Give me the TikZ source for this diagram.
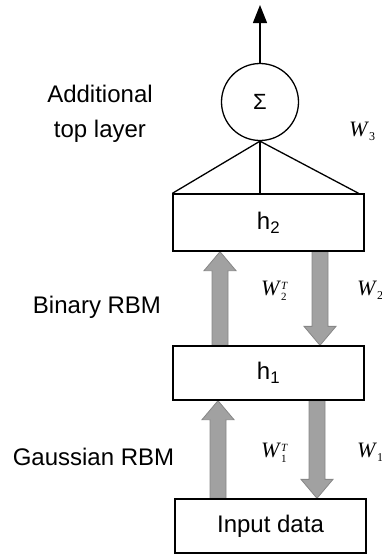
\documentclass[tikz,border=0pt]{standalone}
\usepackage{fontspec}
\setmainfont{Liberation Sans}
\newfontfamily\wfont{Liberation Serif}
\usetikzlibrary{arrows.meta,calc,backgrounds}
\newcommand{\fatarrow}[2]{%
  \filldraw[fatarr] let \p1=(#1), \p2=(#2), \n1={sign(\y2-\y1)} in
   ({\x1-8pt},\y1) -- ({\x1-8pt},{\y2-\n1*19pt}) -- ({\x1-16pt},{\y2-\n1*19pt})
   -- (\x1,\y2) -- ({\x1+16pt},{\y2-\n1*19pt}) -- ({\x1+8pt},{\y2-\n1*19pt})
   -- ({\x1+8pt},\y1) -- cycle;}
\newcommand{\wsub}[1]{\textit{W}\raisebox{-4pt}{\fontsize{12}{12}\selectfont #1}}
\newcommand{\wsubT}[1]{\textit{W}\raisebox{-5pt}{\fontsize{11}{13}\selectfont\shortstack[l]{\textit{T}\\#1}}}
\tikzset{
  layerbox/.style={draw, line width=1.3pt, minimum width=191pt, inner sep=0pt,
    font=\fontsize{24}{28}\selectfont},
  sumnode/.style={draw, circle, line width=1.3pt, minimum size=77pt, inner sep=0pt,
    font=\fontsize{22}{26}\selectfont},
  lbl/.style={font=\fontsize{24}{35}\selectfont, align=center, anchor=base, inner sep=0pt},
  wlbl/.style={font=\wfont\fontsize{22}{24}\selectfont, anchor=base west, inner sep=0pt},
  fatarr/.style={fill=black!37, draw=black!47, line width=0.8pt},
  thin/.style={line width=1.3pt}
}
\begin{document}
\begin{tikzpicture}[x=1pt,y=-1pt]
\useasboundingbox (0,0) rectangle (382,555);
\node[sumnode] (sum) at (260,102) {Σ};
\node[layerbox, minimum height=57pt] (h2) at (268.5,222.5) {h\textsubscript{2}};
\node[layerbox, minimum height=54pt] (h1) at (268.5,373) {h\textsubscript{1}};
\node[layerbox, minimum height=54pt] (in) at (270.5,526) {Input data};
\coordinate (out) at (259,5);
\coordinate (xa) at (220,0);
\coordinate (xb) at (320,0);
\coordinate (xc) at (218,0);
\coordinate (xd) at (317,0);
\draw[thin, -{Triangle[length=18pt,width=14pt]}] (sum.north) -- (sum.north |- out);
\draw[thin] (sum.south) -- (h2.north west);
\draw[thin] (sum.south) -- ($(h2.north east)+(-6,0)$);
\draw[thin] (sum.south) -- (sum.south |- h2.north);
\begin{scope}[on background layer]
\fatarrow{h1.north -| xa}{h2.south -| xa}
\fatarrow{h2.south -| xb}{h1.north -| xb}
\fatarrow{in.north -| xc}{h1.south -| xc}
\fatarrow{h1.south -| xd}{in.north -| xd}
\end{scope}
\node[lbl] (t1) at (100,137) {Additional\\top layer};
\node[lbl] (t2) at (97,313) {Binary RBM};
\node[lbl] (t3) at (93.5,465) {Gaussian RBM};
\node[wlbl] (w3) at (349,136) {\wsub{3}};
\node[wlbl] (w2t) at (261,295) {\wsubT{2}};
\node[wlbl] (w2) at (357,295) {\wsub{2}};
\node[wlbl] (w1t) at (261,457) {\wsubT{1}};
\node[wlbl] (w1) at (357,457) {\wsub{1}};
\end{tikzpicture}
\end{document}
